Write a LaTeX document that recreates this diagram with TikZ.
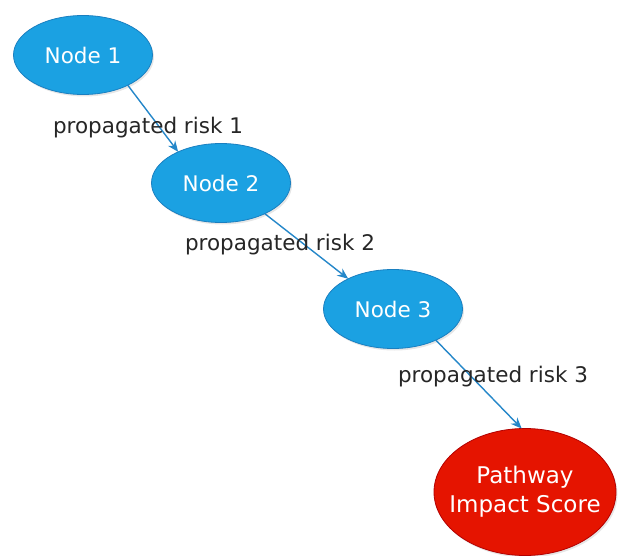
\documentclass[tikz,border=0pt]{standalone}
\usepackage{fontspec}
\setmainfont{DejaVu Sans}
\usetikzlibrary{shapes.geometric,arrows.meta,shadows}

\definecolor{riskblue}{HTML}{1BA1E2}
\definecolor{riskbluedark}{HTML}{1A7FC0}
\definecolor{scorered}{HTML}{E51400}
\definecolor{scorereddark}{HTML}{B20000}
\definecolor{edgeblue}{HTML}{2587C9}

\begin{document}
\begin{tikzpicture}[x=1pt,y=1pt,inner sep=0pt,outer sep=0pt,
font=\fontsize{21.5}{29}\selectfont,
>={Stealth[length=11pt,width=9pt]},
riskpt/.style={draw=riskbluedark,fill=riskblue,ellipse,line width=0.8pt,text=white,
  minimum width=139pt,minimum height=79pt,
  drop shadow={opacity=0.2,shadow xshift=1.5pt,shadow yshift=-2pt}},
scorept/.style={draw=scorereddark,fill=scorered,ellipse,line width=0.8pt,text=white,
  font=\fontsize{23}{29}\selectfont,
  align=center,inner xsep=-17pt,minimum width=182pt,minimum height=127pt,
  drop shadow={opacity=0.2,shadow xshift=1.5pt,shadow yshift=-2pt}},
risklbl/.style={text=black!85}]
\useasboundingbox (0,0) rectangle (618,-556);

\draw (83,-55) node[riskpt] (n1) {Node 1};
\draw (221,-183) node[riskpt] (n2) {Node 2};
\draw (393,-309) node[riskpt] (n3) {Node 3};
\draw (525,-492) node[scorept] (score) {Pathway\\Impact Score};

% edges between the nodes
\draw[->,edgeblue,line width=1.4pt] (n1.-34) -- (n2.144);
\draw[->,edgeblue,line width=1.4pt] (n2.-35) -- (n3.146);
\draw[->,edgeblue,line width=1.4pt] (n3.-36) -- (score.93);

\draw (148,-128) node[risklbl] (r1) {propagated risk 1};
\draw (280,-245) node[risklbl] (r2) {propagated risk 2};
\draw (493,-377) node[risklbl] (r3) {propagated risk 3};

\end{tikzpicture}
\end{document}
